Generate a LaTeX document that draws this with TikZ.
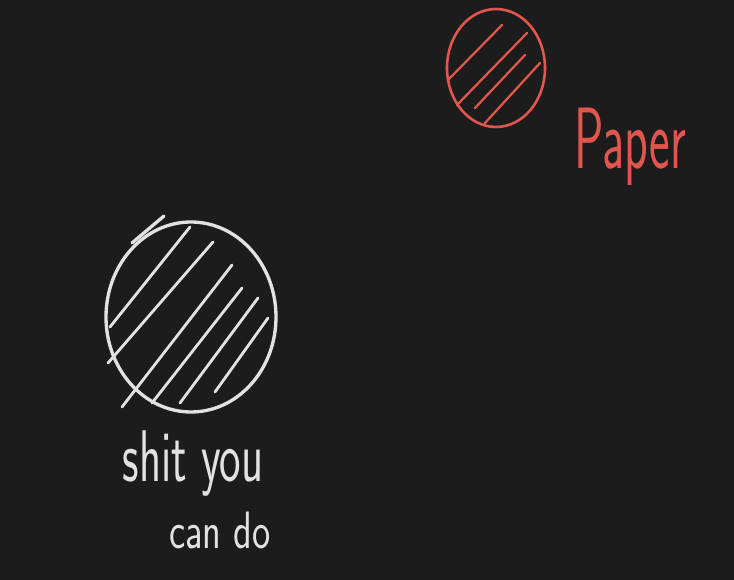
\documentclass[tikz,border=0pt]{standalone}
\usepackage{xcolor}
\usepackage{tikz}
\usetikzlibrary{positioning}
\definecolor{boardbg}{HTML}{1C1C1C}
\definecolor{chalkwhite}{HTML}{E2E2E2}
\definecolor{chalkred}{HTML}{E0564C}
\tikzset{
  chalkline/.style={line width=1.9pt, line cap=round, line join=round},
  hatchline/.style={line width=1.6pt, line cap=round},
  chalktext/.style={align=center, inner sep=0pt, font=\sffamily\fontsize{26}{30}\selectfont, yscale=1.6, transform shape}
}

\begin{document}
\begin{tikzpicture}[x=0.02cm, y=-0.02cm]
\fill[boardbg] (0,0) rectangle (734,580);
\useasboundingbox (0,0) rectangle (734,580);

% big white blob
\draw[chalkline, chalkwhite] (191,317) ellipse [x radius=85, y radius=95];
\draw[chalkline, chalkwhite] (132,243) -- (164,216);
\foreach \ax/\ay/\bx/\by in {110/327/190/227, 108/363/213/242, 122/407/232/265,
  152/403/242/288, 180/403/258/298, 215/392/268/318}
  \draw[hatchline, chalkwhite] (\ax,\ay) -- (\bx,\by);
\node[chalktext, text=chalkwhite] (doable) at (193,464) {shit you};
\node[chalktext, text=chalkwhite, font=\sffamily\fontsize{22}{26}\selectfont, yscale=0.85] (doable2) at (220,530) {can do};

% small red blob
\draw[chalkline, chalkred, line width=1.5pt] (496,68) ellipse [x radius=49, y radius=59];
\foreach \ax/\ay/\bx/\by in {448/80/502/25, 457/105/527/33, 475/108/525/55, 485/123/540/63}
  \draw[hatchline, chalkred, line width=1.3pt] (\ax,\ay) -- (\bx,\by);
\node[chalktext, text=chalkred, font=\sffamily\fontsize{31}{34}\selectfont, xscale=0.9] (paper) at (630,147) {Paper};
\end{tikzpicture}
\end{document}
